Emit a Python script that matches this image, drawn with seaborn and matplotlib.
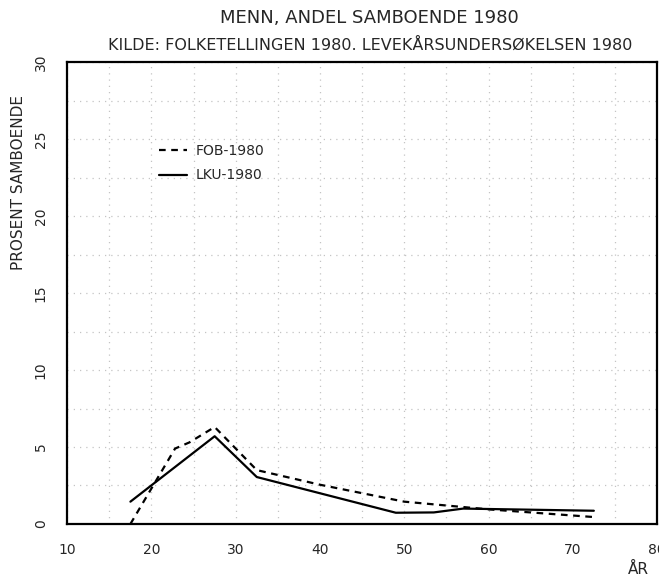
import numpy as np
import pandas as pd
import matplotlib
matplotlib.use("Agg")
import matplotlib.pyplot as plt
import seaborn as sns

# ----- Data -----
fob_age = [17.5, 22.8, 24.5, 27.5, 32.5, 40.0, 50.0, 60.0, 72.5]
fob_pct = [0.0, 4.9, 5.3, 6.3, 3.5, 2.55, 1.45, 0.95, 0.45]
lku_age = [17.5, 27.5, 32.5, 49.0, 53.5, 57.0, 72.5]
lku_pct = [1.45, 5.7, 3.05, 0.73, 0.75, 1.0, 0.86]

x_ticks = [10, 20, 30, 40, 50, 60, 70, 80]
y_ticks = [0, 5, 10, 15, 20, 25, 30]

title = "MENN, ANDEL SAMBOENDE 1980"
subtitle = "KILDE: FOLKETELLINGEN 1980. LEVEKÅRSUNDERSØKELSEN 1980"

fob = pd.DataFrame({"alder": fob_age, "prosent": fob_pct})
lku = pd.DataFrame({"alder": lku_age, "prosent": lku_pct})

sns.set_style("white")
plt.rcParams["font.family"] = ["DejaVu Sans"]

fig = plt.figure(figsize=(6.59, 5.82), dpi=100)
ax = fig.add_axes([0.102, 0.0997, 0.895, 0.7933])

sns.lineplot(data=fob, x="alder", y="prosent", ax=ax, color="black",
             linestyle=(0, (3, 2.5)), linewidth=1.6, label="FOB-1980")
sns.lineplot(data=lku, x="alder", y="prosent", ax=ax, color="black",
             linewidth=1.6, label="LKU-1980")

ax.set_xlim(10, 80)
ax.set_ylim(0, 30)
ax.set_xticks(x_ticks)
ax.set_yticks(y_ticks)
ax.set_xticklabels([str(t) for t in x_ticks], fontsize=10)
ax.set_yticklabels([str(t) for t in y_ticks], fontsize=10, rotation=90, va="center")
ax.tick_params(axis="both", length=0)
ax.tick_params(axis="x", pad=14)
ax.tick_params(axis="y", pad=14)

# faint dotted grid
ax.set_xticks(np.arange(15, 80, 10), minor=True)
ax.set_yticks(np.arange(2.5, 30, 5), minor=True)
ax.grid(True, which="both", color="#c4c4c4", linestyle=(0, (1, 4)), linewidth=0.9)

for sp in ax.spines.values():
    sp.set_color("black")
    sp.set_linewidth(1.6)

ax.set_xlabel("")
ax.set_ylabel("")
fig.text(0.985, 0.008, "ÅR", fontsize=11, ha="right", va="bottom")
fig.text(0.028, 0.687, "PROSENT SAMBOENDE", fontsize=11, rotation=90,
         ha="center", va="center")

fig.text(0.561, 0.969, title, fontsize=13, ha="center", va="center")
fig.text(0.561, 0.923, subtitle, fontsize=11.5, ha="center", va="center")

leg = ax.legend(loc="upper left", bbox_to_anchor=(0.135, 0.85), frameon=False,
                fontsize=10, handlelength=2.0, handletextpad=0.6, labelspacing=0.75)

fig.savefig("out.png", dpi=100)
